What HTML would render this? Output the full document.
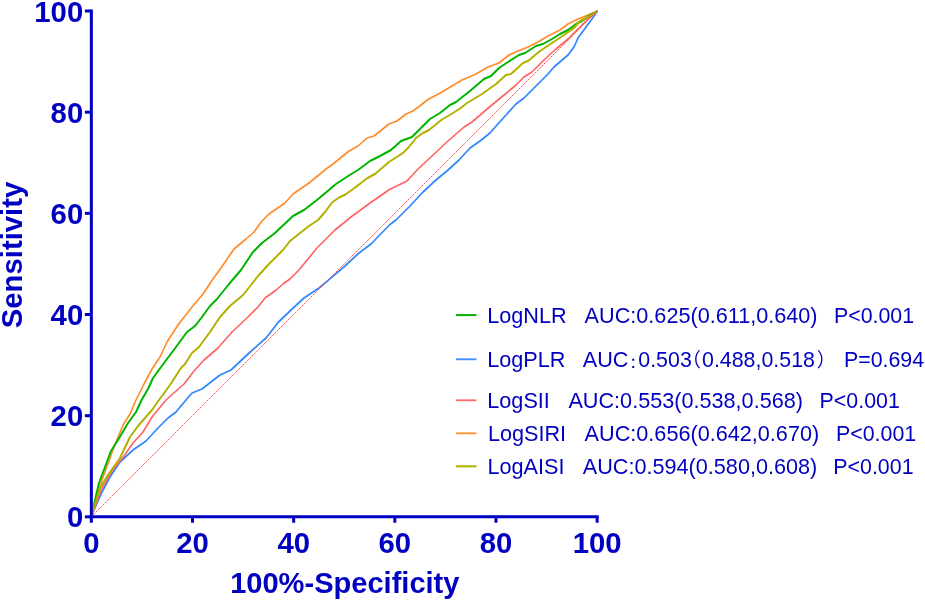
<!DOCTYPE html>
<html lang="en">
<head>
<meta charset="utf-8">
<title>ROC curves</title>
<style>
html,body{margin:0;padding:0;background:#fff;}
body{width:925px;height:600px;overflow:hidden;}
svg{display:block;}
.b{font-family:"Liberation Sans",Arial,Helvetica,sans-serif;font-weight:bold;font-size:29.3px;fill:#0000C0;}
.l{font-family:"Liberation Sans","Noto Sans CJK SC",Arial,Helvetica,sans-serif;font-size:21.65px;fill:#0000C0;}
.f{font-family:"Noto Sans CJK SC","WenQuanYi Zen Hei",sans-serif;font-weight:400;font-size:18.9px;}
.p{font-size:21.4px;}
.fc{font-family:"WenQuanYi Zen Hei","Noto Sans CJK JP",sans-serif;font-size:18px;}
.c{fill:none;stroke-linejoin:round;stroke-linecap:round;}
</style>
</head>
<body>
<svg width="925" height="600" viewBox="0 0 925 600">
<rect x="0" y="0" width="925" height="600" fill="#ffffff"/>
<path class="c" d="M91.4,516.0 L102.0,492.0 L110.0,477.0 L120.0,462.0 L133.0,450.0 L146.0,441.0 L158.0,428.0 L168.0,418.0 L176.0,412.0 L186.0,400.0 L192.0,393.0 L202.0,389.0 L220.0,375.0 L231.0,370.0 L248.0,354.0 L266.0,338.0 L275.0,326.5 L278.0,322.5 L291.0,310.0 L304.0,298.0 L319.0,288.0 L329.0,279.7 L345.0,266.0 L359.0,253.0 L371.0,244.0 L390.0,224.5 L396.0,220.0 L410.0,206.0 L423.0,192.0 L436.0,180.0 L448.0,170.0 L459.0,160.0 L470.0,148.0 L480.0,141.0 L490.0,133.0 L497.0,125.0 L506.0,115.0 L516.0,104.0 L524.0,98.0 L536.0,86.0 L548.0,74.0 L554.0,67.0 L568.0,55.0 L574.0,47.0 L578.0,38.0 L586.0,27.0 L592.0,19.0 L597.0,11.4" stroke="#3388FF" stroke-width="1.75"/>
<path class="c" d="M91.4,516.0 L102.0,488.0 L112.0,471.0 L124.0,456.0 L133.0,443.0 L143.0,432.0 L152.0,417.0 L166.0,400.0 L184.0,384.0 L194.0,371.0 L204.0,360.0 L218.0,348.0 L232.0,332.0 L248.0,317.0 L258.0,307.0 L265.0,298.0 L275.5,290.5 L283.0,284.0 L290.0,279.0 L299.0,270.0 L317.0,248.0 L335.0,230.0 L351.0,217.0 L370.0,203.0 L389.5,189.5 L407.0,181.0 L418.0,169.0 L432.0,156.0 L448.0,141.0 L464.0,127.0 L472.0,122.0 L486.0,110.0 L492.0,105.0 L504.0,95.0 L516.0,85.0 L524.0,77.0 L532.0,72.0 L540.0,64.0 L546.0,58.0 L556.0,49.0 L568.0,39.0 L578.0,29.0 L588.0,19.0 L597.0,11.4" stroke="#FF6464" stroke-width="1.65"/>
<path class="c" d="M91.4,516.0 L102.0,480.0 L114.0,447.0 L123.0,425.0 L130.0,414.0 L136.0,400.0 L144.0,384.0 L152.0,369.0 L160.0,357.0 L167.0,342.0 L178.0,325.0 L192.0,307.0 L203.0,294.0 L213.0,279.0 L221.0,268.0 L234.0,249.0 L246.0,239.0 L254.0,232.0 L262.0,221.0 L269.0,214.0 L285.0,203.0 L293.0,194.0 L309.0,183.0 L320.0,174.0 L326.0,169.0 L333.0,164.0 L349.0,151.0 L358.0,146.0 L367.0,138.0 L374.0,136.0 L389.0,124.0 L397.0,121.0 L406.0,114.0 L413.0,111.0 L421.0,105.0 L428.0,99.5 L442.0,92.0 L462.0,80.0 L476.0,74.0 L488.0,67.0 L499.0,63.0 L509.0,55.0 L518.0,51.0 L528.0,47.0 L538.0,42.0 L548.0,36.0 L560.0,30.0 L568.0,24.0 L578.0,19.0 L588.0,15.0 L597.0,11.4" stroke="#FF8C28" stroke-width="1.65"/>
<path class="c" d="M91.4,516.0 L99.0,483.0 L111.0,451.0 L118.0,440.0 L128.0,423.0 L136.0,412.0 L141.6,400.0 L148.0,389.0 L153.0,378.0 L164.0,363.0 L176.0,347.0 L187.0,332.0 L195.0,326.0 L202.0,317.0 L210.0,306.0 L217.0,299.0 L225.0,289.0 L232.4,280.0 L241.0,270.0 L253.0,252.0 L262.0,243.0 L275.0,233.0 L293.0,216.0 L304.0,210.0 L317.0,200.0 L336.0,184.0 L349.0,175.5 L358.0,170.0 L370.0,161.0 L380.0,156.0 L391.0,150.0 L401.0,141.0 L412.0,137.0 L420.0,129.0 L430.0,119.0 L440.0,113.0 L450.0,105.0 L456.0,102.0 L470.0,91.0 L484.0,79.0 L491.0,76.0 L499.0,68.0 L508.0,62.0 L519.0,55.0 L525.0,53.0 L536.0,46.0 L543.0,44.0 L552.0,39.0 L560.0,34.0 L568.0,30.0 L576.0,24.0 L582.0,21.0 L590.0,15.0 L597.0,11.4" stroke="#00B400" stroke-width="2.0"/>
<path class="c" d="M91.4,516.0 L100.0,488.0 L108.0,475.0 L120.0,458.0 L130.0,437.0 L138.0,426.0 L152.0,410.0 L159.0,400.0 L170.0,385.0 L181.0,368.0 L185.0,364.0 L192.0,353.0 L199.0,347.0 L210.0,332.0 L220.0,317.0 L230.0,306.0 L243.0,295.0 L251.0,285.0 L258.0,276.0 L269.0,264.0 L283.0,250.0 L290.0,241.0 L309.0,226.0 L318.0,220.0 L325.0,212.0 L332.0,202.5 L339.0,197.5 L345.5,194.5 L356.5,186.5 L367.5,178.0 L375.0,174.0 L389.0,162.0 L403.0,153.0 L409.0,147.0 L416.0,138.0 L423.0,133.0 L429.0,130.0 L442.0,119.5 L453.0,113.0 L460.0,108.5 L467.0,103.0 L482.0,94.0 L496.0,84.0 L506.0,75.0 L511.0,74.0 L523.0,63.0 L528.0,61.0 L540.0,51.0 L552.0,43.0 L564.0,35.0 L574.0,28.0 L580.0,21.0 L588.0,17.0 L597.0,11.4" stroke="#B4B000" stroke-width="2.0"/>
<line x1="91.35" y1="516.85" x2="597.15" y2="11.0" stroke="#FF3C3C" stroke-width="1" stroke-dasharray="2 1.2"/>
<g stroke="#0000C0" stroke-width="3.0" fill="none" stroke-linecap="butt">
<path d="M91.35,9.50 L91.35,518.35"/>
<path d="M89.85,516.85 L598.65,516.85"/>
<path d="M84.85,516.85 L91.35,516.85"/>
<path d="M91.35,516.85 L91.35,522.75"/>
<path d="M84.85,415.68 L91.35,415.68"/>
<path d="M192.51,516.85 L192.51,522.75"/>
<path d="M84.85,314.51 L91.35,314.51"/>
<path d="M293.67,516.85 L293.67,522.75"/>
<path d="M84.85,213.34 L91.35,213.34"/>
<path d="M394.83,516.85 L394.83,522.75"/>
<path d="M84.85,112.17 L91.35,112.17"/>
<path d="M495.99,516.85 L495.99,522.75"/>
<path d="M84.85,11.00 L91.35,11.00"/>
<path d="M597.15,516.85 L597.15,522.75"/>
</g>
<text class="b" transform="translate(83.2,527.4)" text-anchor="end">0</text>
<text class="b" transform="translate(83.2,426.2)" text-anchor="end">20</text>
<text class="b" transform="translate(83.2,325.0)" text-anchor="end">40</text>
<text class="b" transform="translate(83.2,223.8)" text-anchor="end">60</text>
<text class="b" transform="translate(83.2,122.7)" text-anchor="end">80</text>
<text class="b" transform="translate(83.2,21.5)" text-anchor="end">100</text>
<text class="b" transform="translate(91.3,552.9)" text-anchor="middle">0</text>
<text class="b" transform="translate(192.5,552.9)" text-anchor="middle">20</text>
<text class="b" transform="translate(293.7,552.9)" text-anchor="middle">40</text>
<text class="b" transform="translate(394.8,552.9)" text-anchor="middle">60</text>
<text class="b" transform="translate(496.0,552.9)" text-anchor="middle">80</text>
<text class="b" transform="translate(597.1,552.9)" text-anchor="middle">100</text>
<text class="b" transform="translate(344.8,593.0) scale(0.992,1.016)" text-anchor="middle">100%-Specificity</text>
<text class="b" transform="translate(21.8,255) rotate(-90) scale(1,1.0)" text-anchor="middle">Sensitivity</text>
<line x1="456" y1="315.1" x2="476.5" y2="315.1" stroke="#00B000" stroke-width="2.0"/>
<text class="l" transform="translate(0,322.7) scale(1,1.023)" y="0"><tspan x="487.2">LogNLR</tspan><tspan x="584.6">AUC:0.625(0.611,0.640)</tspan><tspan x="833.9" class="p">P&lt;0.001</tspan></text>
<line x1="456" y1="359.3" x2="476.5" y2="359.3" stroke="#4090FF" stroke-width="1.9"/>
<text class="l" transform="translate(0,367.4) scale(1,1.023)" y="0"><tspan x="487.2">LogPLR</tspan><tspan x="582.7">AUC</tspan><tspan x="624.2" class="fc" dy="1.0">：</tspan><tspan x="638.3" class="p" dy="-1.0">0.503</tspan><tspan x="682.0" class="f">（</tspan><tspan x="702.0" class="p">0.488,0.518</tspan><tspan x="816.8" class="f">）</tspan><tspan x="843.9" class="p">P=0.694</tspan></text>
<line x1="456" y1="400.3" x2="476.5" y2="400.3" stroke="#FF6868" stroke-width="1.8"/>
<text class="l" transform="translate(0,407.8) scale(1,1.023)" y="0"><tspan x="487.3">LogSII</tspan><tspan x="568.4">AUC:0.553(0.538,0.568)</tspan><tspan x="819.6" class="p">P&lt;0.001</tspan></text>
<line x1="456" y1="433.3" x2="476.5" y2="433.3" stroke="#FF9030" stroke-width="1.8"/>
<text class="l" transform="translate(0,441.0) scale(1,1.023)" y="0"><tspan x="487.9">LogSIRI</tspan><tspan x="584.6">AUC:0.656(0.642,0.670)</tspan><tspan x="836.0" class="p">P&lt;0.001</tspan></text>
<line x1="456" y1="466.3" x2="476.5" y2="466.3" stroke="#B4B000" stroke-width="2.1"/>
<text class="l" transform="translate(0,474.0) scale(1,1.023)" y="0"><tspan x="487.5">LogAISI</tspan><tspan x="582.7">AUC:0.594(0.580,0.608)</tspan><tspan x="833.3" class="p">P&lt;0.001</tspan></text>
</svg>
</body>
</html>
